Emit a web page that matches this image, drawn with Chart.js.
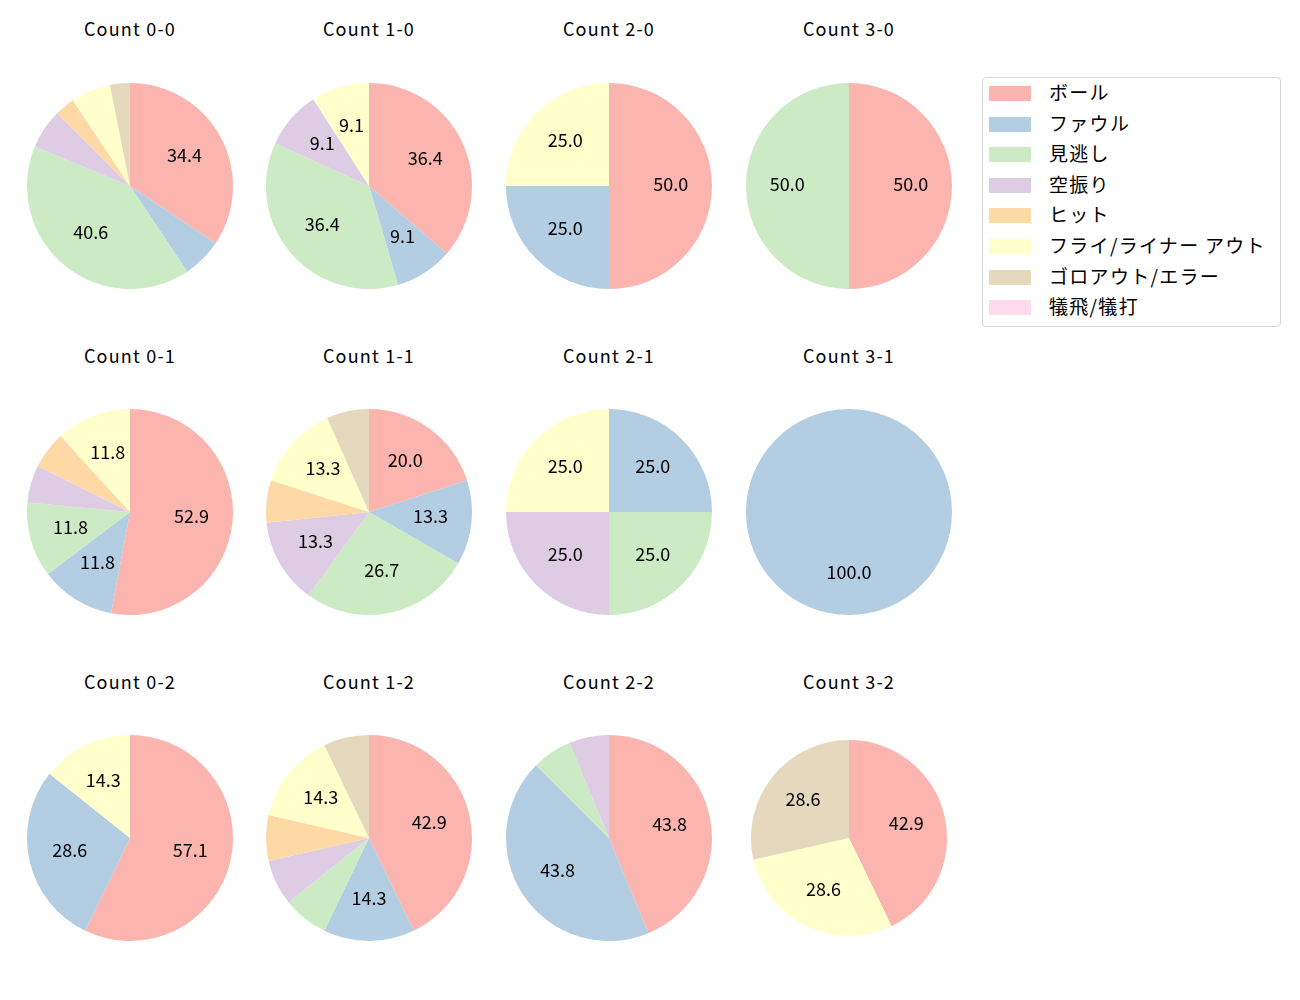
<!DOCTYPE html>
<html>
<head>
  <meta charset="UTF-8">
  <title>Count pies</title>
  <style>
    body {
      margin: 0;
      background: #fff;
      font-family: "Noto Sans CJK JP", sans-serif;
    }
    #page {
      position: relative;
      width: 1300px;
      height: 1000px;
    }
    .title {
      position: absolute;
      width: 200px;
      text-align: center;
      font-size: 18px;
      letter-spacing: 1.2px;
      color: #000;
      line-height: 20px;
    }
    .pie {
      position: absolute;
    }
    #legend {
      position: absolute;
      left: 982px;
      top: 77px;
      width: 299px;
      height: 250px;
      border: 1px solid #d6d6d6;
      border-radius: 4px;
      box-sizing: border-box;
    }
    .item {
      position: absolute;
      left: 6px;
      height: 30px;
      font-size: 19px;
      line-height: 30px;
      color: #000;
      white-space: nowrap;
    }
    .swatch {
      position: absolute;
      left: 0;
      top: 8px;
      width: 42px;
      height: 15px;
    }
    .item span {
      position: absolute;
      left: 60px;
      top: -1px;
      letter-spacing: 1.3px;
    }
  </style>
</head>
<body>
  <div id="page">
    <div id="legend"></div>
  </div>

  <script src="https://cdn.jsdelivr.net/npm/chart.js"></script>
  <script>
    const categories = ["ボール", "ファウル", "見逃し", "空振り", "ヒット", "フライ/ライナー アウト", "ゴロアウト/エラー", "犠飛/犠打"];
    const counts = ["0-0", "1-0", "2-0", "3-0", "0-1", "1-1", "2-1", "3-1", "0-2", "1-2", "2-2", "3-2"];

    // pitches per count, one array per result
    const ball      = [11, 4, 2, 1, 9, 3, 0, 0, 4, 6, 7, 3];
    const foul      = [2, 1, 1, 0, 2, 2, 1, 1, 2, 2, 7, 0];
    const minogashi = [13, 4, 0, 1, 2, 4, 1, 0, 0, 1, 1, 0];
    const karaburi  = [2, 1, 0, 0, 1, 2, 1, 0, 0, 1, 1, 0];
    const hit       = [1, 0, 0, 0, 1, 1, 0, 0, 0, 1, 0, 0];
    const fly       = [2, 1, 1, 0, 2, 2, 1, 0, 1, 2, 0, 2];
    const goro      = [1, 0, 0, 0, 0, 1, 0, 0, 0, 1, 0, 2];
    const gisei     = [0, 0, 0, 0, 0, 0, 0, 0, 0, 0, 0, 0];

    const colors = ["#fbb4ae", "#b3cde3", "#ccebc5", "#decbe4", "#fed9a6", "#ffffcc", "#e5d8bd", "#fddaec"];

    const colX = [130, 369, 609, 849];
    const rowY = [186, 512, 838];
    const titleY = [18, 345, 671];

    const pctLabels = {
      id: "pctLabels",
      afterDatasetsDraw(chart) {
        const ctx = chart.ctx;
        const meta = chart.getDatasetMeta(0);
        const values = chart.data.datasets[0].data;
        const total = values.reduce((a, b) => a + b, 0);
        ctx.save();
        ctx.font = "18px 'Noto Sans CJK JP', sans-serif";
        ctx.fillStyle = "#000";
        ctx.textAlign = "center";
        ctx.textBaseline = "middle";
        meta.data.forEach((arc, i) => {
          const pct = values[i] / total * 100;
          if (pct < 8) return;
          const p = arc.getProps(["x", "y", "startAngle", "endAngle", "outerRadius"], true);
          const mid = (p.startAngle + p.endAngle) / 2;
          const r = p.outerRadius * 0.6;
          // noto sits a bit low with middle baseline
          ctx.fillText(pct.toFixed(1), p.x + Math.cos(mid) * r, p.y + Math.sin(mid) * r - 2);
        });
        ctx.restore();
      }
    };

    const page = document.getElementById("page");
    const series = [ball, foul, minogashi, karaburi, hit, fly, goro, gisei];

    counts.forEach((c, k) => {
      const col = k % 4;
      const row = Math.floor(k / 4);
      const cx = colX[col];
      const cy = rowY[row];
      const rad = c === "3-2" ? 98 : 103;

      const t = document.createElement("div");
      t.className = "title";
      t.style.left = (cx - 100) + "px";
      t.style.top = titleY[row] + "px";
      t.textContent = "Count " + c;
      page.appendChild(t);

      const box = document.createElement("div");
      box.className = "pie";
      box.style.left = (cx - rad - 1) + "px";
      box.style.top = (cy - rad - 1) + "px";
      const canvas = document.createElement("canvas");
      canvas.width = rad * 2 + 2;
      canvas.height = rad * 2 + 2;
      box.appendChild(canvas);
      page.appendChild(box);

      new Chart(canvas.getContext("2d"), {
        type: "pie",
        data: {
          labels: categories,
          datasets: [{
            data: series.map((s) => s[k]),
            backgroundColor: colors,
            borderWidth: 0,
          }],
        },
        options: {
          responsive: false,
          animation: false,
          layout: { padding: 1 },
          plugins: {
            legend: { display: false },
            tooltip: { enabled: false },
          },
        },
        plugins: [pctLabels],
      });
    });

    const legend = document.getElementById("legend");
    categories.forEach((name, i) => {
      const item = document.createElement("div");
      item.className = "item";
      item.style.top = (i * 30.6) + "px";
      const sw = document.createElement("div");
      sw.className = "swatch";
      sw.style.background = colors[i];
      const label = document.createElement("span");
      label.textContent = name;
      item.appendChild(sw);
      item.appendChild(label);
      legend.appendChild(item);
    });
  </script>
</body>
</html>
